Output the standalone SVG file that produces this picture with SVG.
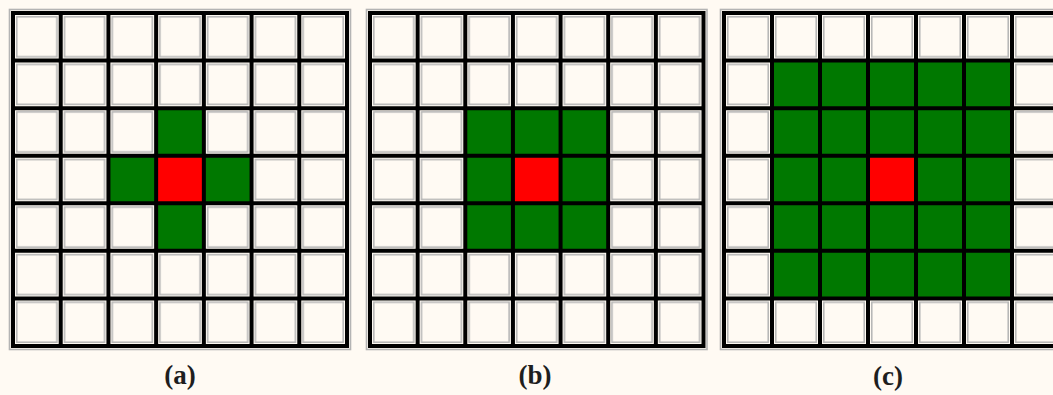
<svg xmlns="http://www.w3.org/2000/svg" width="1053" height="395" viewBox="0 0 1053 395">
<style>
.bg{fill:#fffaf3}
.outer{fill:none;stroke:#b4b4b4;stroke-width:1.6}
.grid{fill:none;stroke:#000;stroke-width:4;stroke-linecap:square}
.g{fill:#007800}
.r{fill:#ff0000}
.lbl{font-family:"Liberation Serif",serif;font-weight:bold;font-size:27px;fill:#1e1e1e;text-anchor:middle}
</style>
<defs>
<pattern id="pa" patternUnits="userSpaceOnUse" x="13" y="13" width="47.714" height="47.571">
<rect x="3.8" y="3.8" width="40.1" height="40" fill="none" stroke="#b4b4b4" stroke-width="1.5"/>
</pattern>
<pattern id="pb" patternUnits="userSpaceOnUse" x="370" y="13" width="47.643" height="47.571">
<rect x="3.8" y="3.8" width="40" height="40" fill="none" stroke="#b4b4b4" stroke-width="1.5"/>
</pattern>
<pattern id="pc" patternUnits="userSpaceOnUse" x="724" y="13" width="48" height="47.571">
<rect x="3.8" y="3.8" width="40.4" height="40" fill="none" stroke="#b4b4b4" stroke-width="1.5"/>
</pattern>
</defs>
<rect class="bg" x="0" y="0" width="1053" height="395"/>

<g id="grid-a">
<rect class="outer" x="9.5" y="9.5" width="341" height="340"/>
<rect x="13" y="13" width="334" height="333" fill="url(#pa)"/>
<rect class="g" x="156.14" y="108.14" width="47.72" height="47.57"/>
<rect class="g" x="108.43" y="155.71" width="47.71" height="47.58"/>
<rect class="g" x="203.86" y="155.71" width="47.71" height="47.58"/>
<rect class="g" x="156.14" y="203.29" width="47.72" height="47.57"/>
<rect class="r" x="156.14" y="155.71" width="47.72" height="47.58"/>
<path class="grid" d="M13 13V346M60.71 13V346M108.43 13V346M156.14 13V346M203.86 13V346M251.57 13V346M299.29 13V346M347 13V346M13 13H347M13 60.57H347M13 108.14H347M13 155.71H347M13 203.29H347M13 250.86H347M13 298.43H347M13 346H347"/>
<text class="lbl" x="180" y="384">(a)</text>
</g>

<g id="grid-b">
<rect class="outer" x="366.5" y="9.5" width="340.5" height="340"/>
<rect x="370" y="13" width="333.5" height="333" fill="url(#pb)"/>
<rect class="g" x="465.29" y="108.14" width="142.93" height="142.72"/>
<rect class="r" x="512.93" y="155.71" width="47.64" height="47.58"/>
<path class="grid" d="M370 13V346M417.64 13V346M465.29 13V346M512.93 13V346M560.57 13V346M608.21 13V346M655.86 13V346M703.5 13V346M370 13H703.5M370 60.57H703.5M370 108.14H703.5M370 155.71H703.5M370 203.29H703.5M370 250.86H703.5M370 298.43H703.5M370 346H703.5"/>
<text class="lbl" x="535" y="384">(b)</text>
</g>

<g id="grid-c">
<rect class="outer" x="720.5" y="9.5" width="345" height="340"/>
<rect x="724" y="13" width="336" height="333" fill="url(#pc)"/>
<rect class="g" x="772" y="60.57" width="240" height="237.86"/>
<rect class="r" x="868" y="155.71" width="48" height="47.58"/>
<path class="grid" d="M724 13V346M772 13V346M820 13V346M868 13V346M916 13V346M964 13V346M1012 13V346M1060 13V346M724 13H1060M724 60.57H1060M724 108.14H1060M724 155.71H1060M724 203.29H1060M724 250.86H1060M724 298.43H1060M724 346H1060"/>
<text class="lbl" x="888" y="385">(c)</text>
</g>
</svg>
